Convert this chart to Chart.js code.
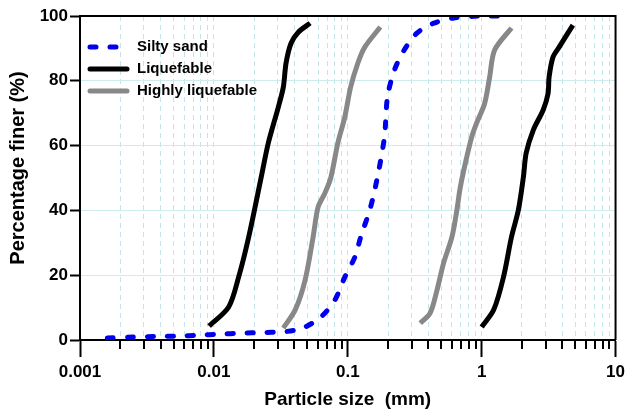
<!DOCTYPE html>
<html>
<head>
<meta charset="utf-8">
<script src="https://cdn.jsdelivr.net/npm/chart.js@4.4.1/dist/chart.umd.min.js"></script>
<style>
  body { margin: 0; background: #fff; }
</style>
</head>
<body>
<canvas id="gsdChart" width="630" height="413"></canvas>
<script>
// particle size (mm) and percentage finer
var siltyX = [0.0016, 0.0025, 0.0037, 0.0055, 0.0077, 0.011, 0.016, 0.023, 0.032, 0.04, 0.048, 0.063, 0.08, 0.095, 0.113, 0.125, 0.148, 0.167, 0.188, 0.198, 0.223, 0.264, 0.33, 0.44, 0.62, 0.97, 1.36];
var siltyY = [0.6, 0.9, 1.1, 1.2, 1.5, 1.8, 2.1, 2.3, 2.5, 3.0, 4.0, 7.1, 12.3, 19.4, 25.6, 31.8, 41, 50.5, 62.7, 75, 83.3, 89.5, 94.8, 97.8, 99.4, 100, 100];

var liqFineX = [0.0092, 0.0129, 0.0153, 0.0182, 0.0225, 0.0255, 0.0303, 0.033, 0.0346, 0.0377, 0.0427, 0.0523];
var liqFineY = [4.3, 10.2, 19.4, 31.8, 50, 60.8, 71.9, 78, 85.5, 91.6, 95, 97.8];
var liqCoarseX = [1.0, 1.23, 1.455, 1.67, 1.88, 2.05, 2.15, 2.43, 2.88, 3.13, 3.19, 3.41, 3.79, 4.8];
var liqCoarseY = [4, 9.3, 19.4, 31.8, 40.1, 50.3, 57.7, 64.8, 71, 76, 81.2, 87.3, 90.4, 97.2];

var highFineX = [0.033, 0.0405, 0.048, 0.0551, 0.06, 0.0676, 0.0749, 0.0843, 0.095, 0.105, 0.119, 0.134, 0.175];
var highFineY = [3.7, 9.3, 18.5, 31.8, 41, 45.4, 50.3, 60.8, 68.8, 78, 85.5, 90.4, 96.6];
var highCoarseX = [0.348, 0.412, 0.464, 0.52, 0.6, 0.653, 0.687, 0.736, 0.843, 0.918, 1.052, 1.146, 1.25, 1.67];
var highCoarseY = [5.2, 8.3, 15.4, 23.8, 31.8, 40.1, 46.3, 52.5, 62.7, 67, 73, 81, 89.5, 96.3];

var xTicks = [0.001, 0.002, 0.003, 0.004, 0.005, 0.006, 0.007, 0.008, 0.009,
              0.01, 0.02, 0.03, 0.04, 0.05, 0.06, 0.07, 0.08, 0.09,
              0.1, 0.2, 0.3, 0.4, 0.5, 0.6, 0.7, 0.8, 0.9,
              1, 2, 3, 4, 5, 6, 7, 8, 9, 10];
var xMajor = [0.001, 0.01, 0.1, 1, 10];
var xMajorLabels = ['0.001', '0.01', '0.1', '1', '10'];
var yTitle = 'Percentage finer (%)';

var FONT = '"Liberation Sans", Arial, sans-serif';

function pts(xs, ys) {
  var out = [];
  for (var i = 0; i < xs.length; i++) out.push({x: xs[i], y: ys[i]});
  return out;
}
function isMajor(v) {
  for (var i = 0; i < xMajor.length; i++) {
    if (Math.abs(v - xMajor[i]) < xMajor[i] * 1e-6) return i;
  }
  return -1;
}

// frame, minor x ticks, y title and the legend in the upper left
var extras = {
  id: 'extras',
  afterDraw: function(chart) {
    var c = chart.ctx, a = chart.chartArea, xs = chart.scales.x;
    c.save();
    c.strokeStyle = '#000';
    c.lineWidth = 2;
    c.beginPath();
    c.moveTo(a.left, a.top); c.lineTo(a.right, a.top); c.lineTo(a.right, a.bottom);
    c.stroke();
    for (var i = 0; i < xTicks.length; i++) {
      if (isMajor(xTicks[i]) >= 0) continue;
      var px = Math.round(xs.getPixelForValue(xTicks[i]));
      c.beginPath(); c.moveTo(px, a.bottom); c.lineTo(px, a.bottom + 9); c.stroke();
    }

    c.save();
    c.translate(18, 168);
    c.rotate(-Math.PI / 2);
    c.fillStyle = '#000';
    c.font = 'bold 20px ' + FONT;
    c.textAlign = 'center';
    c.textBaseline = 'middle';
    c.fillText(yTitle, 0, 0);
    c.restore();

    var seen = {}, row = 0;
    chart.data.datasets.forEach(function(ds) {
      if (seen[ds.label]) return;
      seen[ds.label] = true;
      var y = 47 + row * 22;
      c.strokeStyle = ds.borderColor;
      c.lineWidth = ds.borderWidth;
      c.lineCap = 'round';
      c.setLineDash(ds.borderDash || []);
      c.beginPath();
      if (ds.borderDash) { c.moveTo(90, y); c.lineTo(120, y); }
      else { c.moveTo(90, y); c.lineTo(127, y); }
      c.stroke();
      c.setLineDash([]);
      c.fillStyle = '#000';
      c.font = 'bold 15px ' + FONT;
      c.textBaseline = 'middle';
      c.fillText(ds.label, 137, y);
      row++;
    });
    c.restore();
  }
};

var ctx = document.getElementById('gsdChart').getContext('2d');
var gsdChart = new Chart(ctx, {
  type: 'scatter',
  data: {
    datasets: [
      {label: 'Silty sand', data: pts(siltyX, siltyY), borderColor: '#0000ee', borderWidth: 5, borderDash: [6, 14], borderCapStyle: 'round'},
      {label: 'Liquefable', data: pts(liqFineX, liqFineY), borderColor: '#000000', borderWidth: 5},
      {label: 'Highly liquefable', data: pts(highFineX, highFineY), borderColor: '#888888', borderWidth: 5},
      {label: 'Highly liquefable', data: pts(highCoarseX, highCoarseY), borderColor: '#888888', borderWidth: 5},
      {label: 'Liquefable', data: pts(liqCoarseX, liqCoarseY), borderColor: '#000000', borderWidth: 5}
    ]
  },
  options: {
    responsive: false,
    animation: false,
    devicePixelRatio: 1,
    layout: {padding: {top: 16, right: 10, left: 0, bottom: 0}},
    elements: {
      point: {radius: 0, hoverRadius: 0},
      line: {tension: 0.3, fill: false, borderJoinStyle: 'round'}
    },
    datasets: {scatter: {showLine: true}},
    plugins: {legend: {display: false}, tooltip: {enabled: false}},
    scales: {
      x: {
        type: 'logarithmic',
        min: 0.001,
        max: 10,
        afterFit: function(s) { s.height = 73; },
        afterBuildTicks: function(s) {
          s.ticks = xTicks.map(function(v) { return {value: v, major: isMajor(v) >= 0}; });
        },
        border: {display: true, color: '#000', width: 2, dash: [5, 4]},
        grid: {
          color: function(c) {
            var v = c.tick ? c.tick.value : 0;
            if (Math.abs(v - 0.001) < 1e-9 || Math.abs(v - 10) < 1e-6) return 'rgba(0,0,0,0)';
            return '#c2e6e8';
          },
          lineWidth: 1,
          tickLength: 17,
          tickWidth: 2,
          tickColor: function(c) {
            return c.tick && isMajor(c.tick.value) >= 0 ? '#000' : 'rgba(0,0,0,0)';
          }
        },
        ticks: {
          autoSkip: false,
          maxRotation: 0,
          padding: 5,
          color: '#000',
          font: {family: FONT, size: 17, weight: 'bold'},
          callback: function(v) {
            var k = isMajor(v);
            return k >= 0 ? xMajorLabels[k] : '';
          }
        },
        title: {
          display: true,
          text: 'Particle size  (mm)',
          color: '#000',
          font: {family: FONT, size: 19, weight: 'bold'},
          padding: {top: 0, bottom: 2}
        }
      },
      y: {
        min: 0,
        max: 100,
        afterFit: function(s) { s.width = 80; },
        border: {display: true, color: '#000', width: 2},
        grid: {
          color: function(c) {
            var v = c.tick ? c.tick.value : 0;
            return (v === 0 || v === 100) ? 'rgba(0,0,0,0)' : '#cdeced';
          },
          lineWidth: 1,
          tickLength: 10,
          tickWidth: 2,
          tickColor: '#000'
        },
        ticks: {
          stepSize: 20,
          padding: 2,
          color: '#000',
          font: {family: FONT, size: 17, weight: 'bold'}
        },
        title: {display: false}
      }
    }
  },
  plugins: [extras]
});
</script>
</body>
</html>
